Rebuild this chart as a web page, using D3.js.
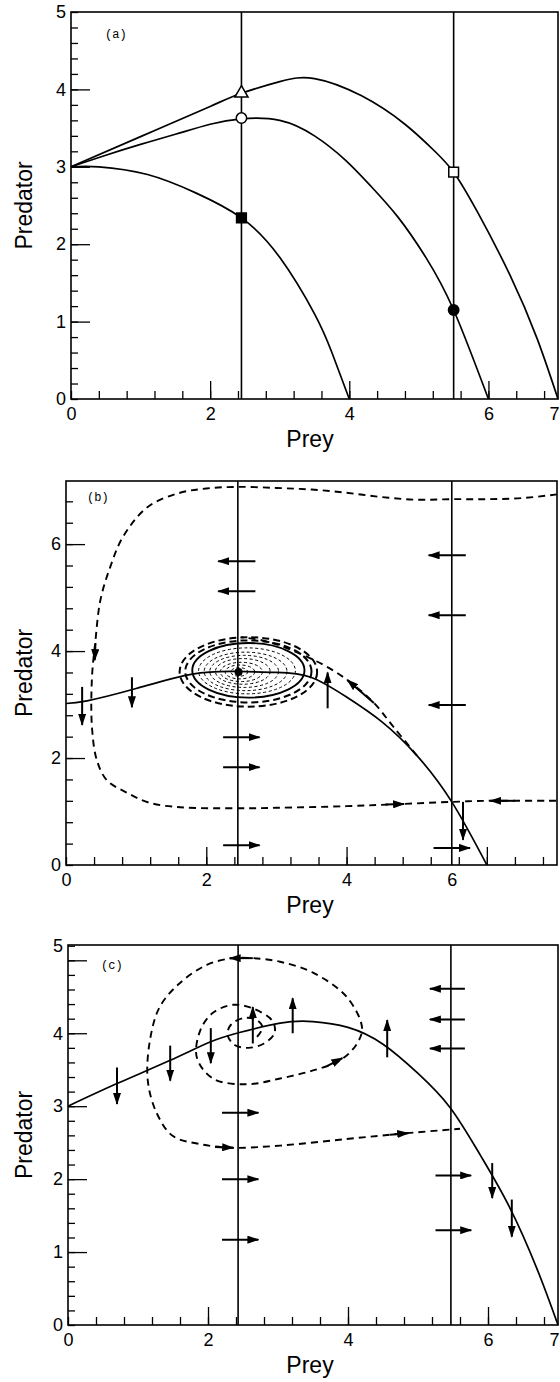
<!DOCTYPE html>
<html>
<head>
<meta charset="utf-8">
<script src="https://cdnjs.cloudflare.com/ajax/libs/d3/7.8.5/d3.min.js"></script>
<style>
body { margin: 0; background: #fff; }
svg { display: block; }
.curve { fill: none; stroke: #000; stroke-width: 1.7; }
.traj { fill: none; stroke: #000; stroke-width: 1.9; stroke-dasharray: 7,5; }
.vline { stroke: #000; stroke-width: 1.6; }
.arrow { stroke: #000; stroke-width: 2; }
</style>
</head>
<body>
<svg width="560" height="1382"></svg>
<script>
// ---- panel (a) data ----
var aCurveLow = [[0,3],[0.4,3.0],[1.1,2.9],[1.8,2.66],[2.45,2.34],[3,1.83],[3.5,1.1],[3.75,0.6],[4,0]];
var aCurveMid = [[0,3],[0.5,3.15],[1,3.29],[1.5,3.42],[2,3.55],[2.45,3.62],[3,3.6],[3.5,3.4],[3.94,3.09],[4.3,2.76],[4.7,2.35],[5.1,1.83],[5.5,1.15],[6,0]];
var aCurveTop = [[0,3],[1,3.39],[2,3.78],[2.45,3.95],[3,4.1],[3.5,4.14],[4.17,3.92],[4.8,3.55],[5.23,3.2],[5.5,2.93],[5.84,2.42],[6.31,1.6],[6.7,0.78],[7,0]];
var aVLines = [2.45, 5.5];
// [prey, predator, symbol, filled]
var aPoints = [[2.45,3.95,"triangle",false],[2.45,3.63,"circle",false],[2.45,2.34,"square",true],[5.5,2.93,"square",false],[5.5,1.15,"circle",true]];
var aXLabelPos = [0,2,4,6,7], aXLabelText = ["0","2","4","6","7"];
var aYLabelPos = [0,1,2,3,4,5], aYLabelText = ["0","1","2","3","4","5"];

// ---- panel (b) data ----
var bCurve = [[0,3.02],[0.3,3.07],[1,3.3],[1.8,3.57],[2.45,3.62],[3,3.6],[3.49,3.51],[4.0,3.14],[4.5,2.68],[5.0,2.05],[5.5,1.18],[6,0]];
var bVLines = [2.45, 5.5];
var bOuterTraj = [[7.0,6.93],[6.5,6.86],[6.0,6.84],[5.5,6.84],[5.0,6.83],[4.5,6.88],[4.0,6.96],[3.5,7.02],[3.0,7.05],[2.45,7.07],[2.0,7.04],[1.6,6.95],[1.16,6.69],[0.81,6.13],[0.63,5.57],[0.49,4.95],[0.42,4.2],[0.37,3.5],[0.37,2.58],[0.44,1.96],[0.58,1.59],[0.87,1.35],[1.2,1.16],[1.63,1.08],[2.45,1.06],[3.0,1.07],[4.0,1.1],[4.77,1.14],[5.5,1.18],[6.0,1.2],[7.0,1.2]];
var bInTraj = [[5.0,2.05],[4.67,2.58],[4.39,3.03],[4.01,3.46],[3.7,3.72],[3.44,3.89],[3.1,4.08],[2.8,4.2],[2.5,4.26]];
// spiral rings [cx, cy, rx, ry]
var bRingsOuter = [[2.6,3.61,0.98,0.65],[2.6,3.62,0.9,0.58]];
var bRingSolid = [[2.6,3.64,0.8,0.51]];
var bRingsInner = [[2.58,3.63,0.69,0.43],[2.56,3.62,0.59,0.36],[2.54,3.62,0.49,0.3],[2.52,3.62,0.39,0.24],[2.5,3.61,0.3,0.18],[2.48,3.61,0.21,0.13],[2.47,3.61,0.12,0.08]];
var bCenter = [2.46, 3.61];
// arrows [x1, y1, x2, y2] tail -> head
var bArrows = [[2.7,5.68,2.17,5.68],[2.7,5.12,2.17,5.12],
  [5.7,5.79,5.17,5.79],[5.7,4.67,5.17,4.67],[5.7,2.99,5.17,2.99],
  [2.24,2.39,2.76,2.39],[2.24,1.83,2.76,1.83],[2.24,0.37,2.76,0.37],
  [5.24,0.32,5.76,0.32],
  [0.23,3.33,0.23,2.62],[0.94,3.51,0.94,2.95],[5.66,1.18,5.66,0.47],
  [3.73,2.93,3.73,3.6],
  [0.42,4.15,0.41,3.83],[4.55,1.13,4.82,1.14],[6.4,1.2,6.05,1.2],[4.39,3.03,4.01,3.46]];
var bXLabelPos = [0,2,4,5.5], bXLabelText = ["0","2","4","6"];
var bYLabelPos = [0,2,4,6], bYLabelText = ["0","2","4","6"];

// ---- panel (c) data ----
var cCurve = [[0,3.0],[0.7,3.31],[1.46,3.63],[2.03,3.88],[2.45,4.01],[3.03,4.14],[3.5,4.16],[4.0,4.08],[4.5,3.85],[5.0,3.45],[5.46,2.98],[5.89,2.33],[6.3,1.63],[6.7,0.77],[7,0]];
var cVLines = [2.43, 5.47];
var cSpiral = [[2.7,3.95],[2.78,4.08],[2.7,4.18],[2.52,4.21],[2.33,4.12],[2.28,3.98],[2.38,3.84],[2.58,3.8],[2.8,3.86],[2.95,4.0],[2.92,4.17],[2.64,4.34],[2.36,4.39],[2.07,4.28],[1.89,4.04],[1.84,3.67],[2.07,3.38],[2.55,3.3],[3.03,3.38],[3.5,3.49],[3.89,3.63],[4.13,3.86],[4.2,4.08],[3.98,4.5],[3.5,4.83],[3.03,4.98],[2.64,5.03],[2.36,5.03],[1.99,4.94],[1.6,4.69],[1.31,4.36],[1.17,3.9],[1.14,3.35],[1.27,2.9],[1.5,2.59],[1.89,2.48],[2.34,2.43],[3.03,2.46],[3.98,2.55],[4.84,2.63],[5.6,2.69]];
var cArrows = [[0.7,3.53,0.7,3.03],[1.46,3.83,1.46,3.35],[2.04,4.07,2.04,3.59],[6.06,2.22,6.06,1.74],[6.34,1.72,6.34,1.21],
  [2.64,3.86,2.64,4.36],[3.21,4.0,3.21,4.48],[4.56,3.67,4.56,4.18],
  [5.67,4.61,5.17,4.61],[5.67,4.19,5.17,4.19],[5.67,3.79,5.17,3.79],
  [2.2,2.91,2.72,2.91],[2.2,2.0,2.72,2.0],[2.2,1.17,2.72,1.17],
  [5.25,2.05,5.76,2.05],[5.25,1.3,5.76,1.3],
  [2.64,5.03,2.31,5.03],[2.1,2.44,2.36,2.43],[4.6,2.61,4.86,2.63],[3.7,3.55,3.92,3.66]];
var cXLabelPos = [0,2,4,6,7], cXLabelText = ["0","2","4","6","7"];
var cYLabelPos = [0,1,2,3,4,5.2], cYLabelText = ["0","1","2","3","4","5"];

var svg = d3.select("svg");
svg.append("rect").attr("width", 560).attr("height", 1382).attr("fill", "#fff");

var defs = svg.append("defs");
defs.append("marker")
    .attr("id", "head")
    .attr("viewBox", "0 0 12 8")
    .attr("refX", 11)
    .attr("refY", 4)
    .attr("markerWidth", 12)
    .attr("markerHeight", 8)
    .attr("markerUnits", "userSpaceOnUse")
    .attr("orient", "auto")
  .append("path")
    .attr("d", "M0,0L12,4L0,8Z")
    .attr("fill", "#000");

var tickFont = "'Liberation Sans', Arial, Helvetica, sans-serif";

function clean(sel) {
    sel.select(".domain").remove();
    sel.selectAll("line").attr("stroke", "#000").attr("stroke-width", 1.3);
    sel.selectAll("text").attr("font-family", tickFont).attr("font-size", 18).attr("fill", "#000");
}

// draws border, ticks, tick labels and axis titles
function frame(g, x, y, o) {
    var x0 = x.range()[0], x1 = x.range()[1], y0 = y.range()[0], y1 = y.range()[1];

    g.append("g").attr("transform", "translate(0," + y0 + ")")
        .call(d3.axisBottom(x).tickValues(o.xMinor).tickSize(-8).tickFormat("")).call(clean);
    g.append("g").attr("transform", "translate(0," + y0 + ")")
        .call(d3.axisBottom(x).tickValues(o.xMajor).tickSize(-18).tickFormat("")).call(clean);
    var xl = g.append("g").attr("transform", "translate(0," + y0 + ")")
        .call(d3.axisBottom(x).tickValues(o.xLabPos).tickSize(0).tickPadding(8)
            .tickFormat(function(d, i) { return o.xLabText[i]; })).call(clean);
    // keep a label sitting on the right edge inside the page
    xl.selectAll("text").filter(function(d) { return x(d) > 552; }).attr("text-anchor", "end").attr("dx", 1);

    g.append("g").attr("transform", "translate(" + x0 + ",0)")
        .call(d3.axisLeft(y).tickValues(o.yMinor).tickSize(-7).tickFormat("")).call(clean);
    g.append("g").attr("transform", "translate(" + x0 + ",0)")
        .call(d3.axisLeft(y).tickValues(o.yMajor).tickSize(-19).tickFormat("")).call(clean);
    g.append("g").attr("transform", "translate(" + x0 + ",0)")
        .call(d3.axisLeft(y).tickValues(o.yLabPos).tickSize(0).tickPadding(5)
            .tickFormat(function(d, i) { return o.yLabText[i]; })).call(clean);

    g.append("rect")
        .attr("x", x0).attr("y", y1)
        .attr("width", x1 - x0).attr("height", y0 - y1)
        .attr("fill", "none").attr("stroke", "#000").attr("stroke-width", 1.6);

    g.append("text")
        .attr("x", 310).attr("y", y0 + 48)
        .attr("text-anchor", "middle")
        .attr("font-family", tickFont).attr("font-size", 23)
        .text("Prey");

    g.append("text")
        .attr("transform", "translate(32," + ((y0 + y1) / 2) + ") rotate(-90)")
        .attr("text-anchor", "middle")
        .attr("font-family", tickFont).attr("font-size", 23)
        .text("Predator");

    g.append("text")
        .attr("x", o.tag[0]).attr("y", o.tag[1])
        .attr("font-family", "'Liberation Mono', 'DejaVu Sans Mono', monospace")
        .attr("font-size", 12)
        .text(o.tag[2]);
}

function vlines(g, x, y, data) {
    g.selectAll(".vline").data(data).enter().append("line")
        .attr("class", "vline")
        .attr("x1", function(d) { return x(d); })
        .attr("x2", function(d) { return x(d); })
        .attr("y1", y.range()[0])
        .attr("y2", y.range()[1]);
}

function arrows(g, x, y, data) {
    g.selectAll(".arrow").data(data).enter().append("line")
        .attr("class", "arrow")
        .attr("x1", function(d) { return x(d[0]); })
        .attr("y1", function(d) { return y(d[1]); })
        .attr("x2", function(d) { return x(d[2]); })
        .attr("y2", function(d) { return y(d[3]); })
        .attr("marker-end", "url(#head)");
}

// smooth curves: natural spline for the nullclines, catmull-rom for trajectories
function curveGen(x, y) {
    return d3.line()
        .curve(d3.curveNatural)
        .x(function(d) { return x(d[0]); })
        .y(function(d) { return y(d[1]); });
}
function trajGen(x, y) {
    return d3.line()
        .curve(d3.curveCatmullRom.alpha(0.5))
        .x(function(d) { return x(d[0]); })
        .y(function(d) { return y(d[1]); });
}

var xMinor = d3.range(0, 7.01, 0.4);

// ---------- panel (a) ----------
var ax = d3.scaleLinear().domain([0, 7]).range([71, 558]),
    ay = d3.scaleLinear().domain([0, 5]).range([399, 12]),
    ga = svg.append("g");

frame(ga, ax, ay, {
    xMinor: xMinor, xMajor: [2, 4, 6], xLabPos: aXLabelPos, xLabText: aXLabelText,
    yMinor: d3.range(0, 5.01, 0.2), yMajor: [1, 2, 3, 4], yLabPos: aYLabelPos, yLabText: aYLabelText,
    tag: [105, 38, "(a)"]
});
vlines(ga, ax, ay, aVLines);
var la = curveGen(ax, ay);
[aCurveLow, aCurveMid, aCurveTop].forEach(function(c) {
    ga.append("path").datum(c).attr("class", "curve").attr("d", la);
});

var symType = {triangle: d3.symbolTriangle, circle: d3.symbolCircle, square: d3.symbolSquare},
    symSize = {triangle: 75, circle: 85, square: 95};
ga.selectAll(".pt").data(aPoints).enter().append("path")
    .attr("class", "pt")
    .attr("transform", function(d) { return "translate(" + ax(d[0]) + "," + ay(d[1]) + ")"; })
    .attr("d", function(d) { return d3.symbol().type(symType[d[2]]).size(symSize[d[2]])(); })
    .attr("fill", function(d) { return d[3] ? "#000" : "#fff"; })
    .attr("stroke", "#000")
    .attr("stroke-width", 1.5);

// ---------- panel (b) ----------
var bx = d3.scaleLinear().domain([0, 7]).range([66, 557]),
    by = d3.scaleLinear().domain([0, 7.18]).range([865, 481]),
    gb = svg.append("g");

frame(gb, bx, by, {
    xMinor: xMinor, xMajor: [2, 4, 6], xLabPos: bXLabelPos, xLabText: bXLabelText,
    yMinor: d3.range(0, 7.01, 0.4), yMajor: [2, 4, 6], yLabPos: bYLabelPos, yLabText: bYLabelText,
    tag: [87, 501, "(b)"]
});
vlines(gb, bx, by, bVLines);

function rings(g, x, y, data, cls, width, dash) {
    g.selectAll("." + cls).data(data).enter().append("ellipse")
        .attr("class", cls)
        .attr("cx", function(d) { return x(d[0]); })
        .attr("cy", function(d) { return y(d[1]); })
        .attr("rx", function(d) { return x(d[0] + d[2]) - x(d[0]); })
        .attr("ry", function(d) { return y(d[1]) - y(d[1] + d[3]); })
        .attr("fill", "none")
        .attr("stroke", "#000")
        .attr("stroke-width", width)
        .attr("stroke-dasharray", dash);
}
rings(gb, bx, by, bRingsInner, "ringIn", 1, "3,2.5");
rings(gb, bx, by, bRingSolid, "ringSolid", 1.9, null);
rings(gb, bx, by, bRingsOuter, "ringOut", 2, "7,4");

var lb = curveGen(bx, by), tb = trajGen(bx, by);
gb.append("path").datum(bCurve).attr("class", "curve").attr("d", lb);
gb.append("path").datum(bOuterTraj).attr("class", "traj").attr("d", tb);
gb.append("path").datum(bInTraj).attr("class", "traj").attr("d", tb);
gb.append("circle").attr("cx", bx(bCenter[0])).attr("cy", by(bCenter[1])).attr("r", 4).attr("fill", "#000");
arrows(gb, bx, by, bArrows);

// ---------- panel (c) ----------
var cx = d3.scaleLinear().domain([0, 7]).range([68, 558]),
    cy = d3.scaleLinear().domain([0, 5.21]).range([1325, 945]),
    gc = svg.append("g");

frame(gc, cx, cy, {
    xMinor: xMinor, xMajor: [2, 4, 6], xLabPos: cXLabelPos, xLabText: cXLabelText,
    yMinor: d3.range(0, 5.21, 0.2), yMajor: [1, 2, 3, 4, 5], yLabPos: cYLabelPos, yLabText: cYLabelText,
    tag: [101, 969, "(c)"]
});
vlines(gc, cx, cy, cVLines);
gc.append("path").datum(cCurve).attr("class", "curve").attr("d", curveGen(cx, cy));
gc.append("path").datum(cSpiral).attr("class", "traj").attr("d", trajGen(cx, cy));
arrows(gc, cx, cy, cArrows);
</script>
</body>
</html>
